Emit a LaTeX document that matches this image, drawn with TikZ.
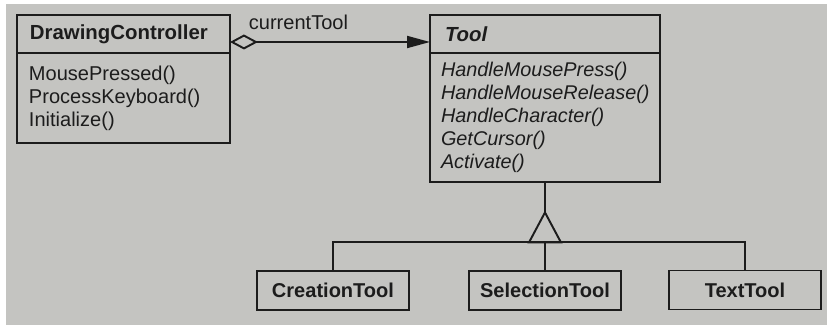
\documentclass[tikz,border=0pt]{standalone}
\usepackage{fontspec}
\setmainfont{Liberation Sans}
\usetikzlibrary{arrows.meta}
\definecolor{paper}{RGB}{196,196,193}
\definecolor{ink}{RGB}{28,28,28}
\newcommand\umlfont{\fontsize{11.4}{13.1}\selectfont}

\begin{document}
\begin{tikzpicture}[x=0.02cm, y=-0.02cm, line width=1.1pt, color=ink,
  hdr/.style={draw, outer sep=0pt, anchor=north west, minimum height=0.76cm, inner xsep=0.26cm, align=left, font=\fontsize{11.6}{13.1}\selectfont\bfseries},
  ops/.style={draw, outer sep=0pt, anchor=north west, inner xsep=0.24cm, align=left, font=\umlfont},
  sub/.style={draw, outer sep=0pt, minimum width=3.04cm, minimum height=0.78cm, font=\fontsize{11.4}{13}\selectfont\bfseries}]
\fill[white](0,0)rectangle(827,325);
\fill[paper](6,4)rectangle(827,325);

% classes
\node[hdr, text width=3.74cm] (dchead) at (17,15) {DrawingController};
\node[ops, text width=3.78cm, minimum height=1.8cm] (dcops) at (dchead.south west) {MousePressed()\\ProcessKeyboard()\\Initialize()};
\node[hdr, text width=4.0cm, inner xsep=0.3cm, font=\fontsize{11.6}{13.1}\selectfont\bfseries\itshape] (toolhead) at (430,15) {Tool};
\node[ops, text width=4.16cm, inner xsep=0.22cm, minimum height=2.58cm, font=\fontsize{11.3}{13.1}\selectfont\itshape] (toolops) at (toolhead.south west) {HandleMousePress()\\HandleMouseRelease()\\HandleCharacter()\\GetCursor()\\Activate()};

\node[sub] (creation) at (333,290.5) {CreationTool};
\node[sub] (selection) at (545,290.5) {SelectionTool};
\node[sub] (texttool) at (745,290) {TextTool};

% aggregation
\draw[{Diamond[open,length=0.56cm,width=0.3cm]}-{Triangle[length=0.46cm,width=0.24cm]}]
  ([yshift=-0.16cm]dchead.east) -- ([yshift=-0.16cm]dchead.east -| toolhead.west)
  node[pos=0, anchor=base west, xshift=0.36cm, yshift=0.24cm, inner sep=0, font=\umlfont]{currentTool};

% inheritance
\coordinate (apex) at ([yshift=-0.61cm]toolops.south);
\coordinate (base) at ([yshift=-0.6cm]apex);
\draw(toolops.south)--(apex);
\draw(apex)--([xshift=-0.32cm]base)--([xshift=0.32cm]base)--cycle;
\draw(creation.north)--(creation.north |- base)--(texttool.north |- base)--(texttool.north);
\draw(selection.north)--(selection.north |- base);

\end{tikzpicture}
\end{document}
